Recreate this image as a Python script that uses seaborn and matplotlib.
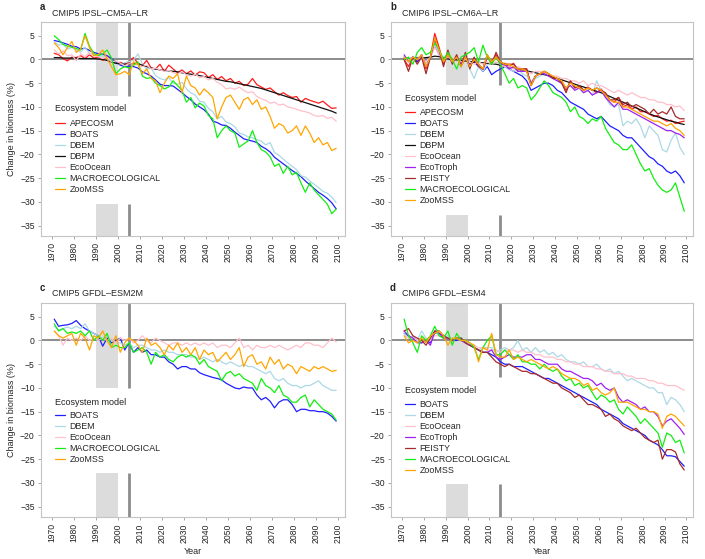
import matplotlib
matplotlib.use("Agg")
import matplotlib.pyplot as plt
import numpy as np
import pandas as pd
import seaborn as sns

# years sampled every 2 years, 1971..2099
years = list(range(1971, 2100, 2))

# ---- a: CMIP5 IPSL-CM5A-LR ----
a_apecosm = [1.3, 1.0, 0.2, -0.3, 0.5, 0.4, 0.8, 0.2, 1.0, 0.3,
             0.5, -0.2, 0.6, -0.5, -0.8, -0.6, -1.0, -0.5, 0.4, -0.8,
             -1.3, -0.2, -1.8, -2.0, -1.0, -2.5, -1.2, -2.0, -2.8, -2.2,
             -3.0, -2.4, -3.3, -2.6, -2.8, -3.8, -3.2, -4.2, -3.6, -4.5,
             -4.0, -5.0, -4.6, -5.5, -5.2, -4.0, -5.3, -5.8, -6.3, -6.0,
             -6.8, -7.5, -7.0, -7.6, -8.0, -7.8, -9.0, -8.2, -8.6, -8.9,
             -9.2, -8.8, -9.6, -10.3, -10.2]
a_boats = [4.0, 3.8, 3.5, 3.2, 2.8, 2.7, 2.2, 2.4, 1.9, 1.5,
           1.2, 1.1, 0.8, 0.2, -0.6, -1.2, -1.5, -1.4, -1.5, -1.8,
           -2.6, -3.0, -3.5, -4.3, -5.2, -5.5, -5.5, -5.6, -6.3, -7.0,
           -7.8, -8.5, -9.4, -10.0, -10.6, -11.5, -13.0, -13.3, -13.8, -13.9,
           -14.5, -15.3, -16.0, -16.7, -17.0, -17.2, -17.5, -18.3, -18.8, -19.5,
           -20.6, -21.3, -22.0, -22.7, -23.4, -24.0, -24.7, -25.6, -26.4, -27.2,
           -28.0, -28.6, -29.3, -30.2, -31.5]
a_dbem = [3.8, 3.0, 3.3, 2.2, 2.5, 2.0, 1.5, 2.6, 1.2, 1.0,
          0.6, 0.9, 0.2, -0.2, -0.8, -1.0, -0.7, -0.4, -0.2, 1.2,
          -1.0, -2.0, -1.8, -3.4, -4.0, -4.3, -3.8, -5.0, -5.2, -4.8,
          -6.2, -7.0, -7.5, -8.8, -9.0, -10.3, -11.0, -12.5, -12.0, -13.2,
          -13.5, -14.2, -15.5, -15.8, -16.3, -16.5, -16.9, -17.2, -18.0, -17.5,
          -19.6, -20.2, -21.0, -21.8, -22.5, -23.2, -24.5, -24.8, -25.6, -26.3,
          -27.0, -27.8, -28.2, -29.0, -30.2]
a_dbpm = [0.4, 0.4, 0.3, 0.3, 0.3, 0.3, 0.2, 0.2, 0.2, 0.2,
          0.1, 0.0, -0.2, -0.5, -0.8, -0.9, -1.0, -1.0, -0.9, -0.9,
          -1.2, -1.5, -1.8, -2.0, -2.2, -2.3, -2.4, -2.5, -2.6, -2.8,
          -3.0, -3.1, -3.2, -3.4, -3.6, -3.8, -4.0, -4.2, -4.4, -4.6,
          -4.7, -4.9, -5.1, -5.3, -5.5, -5.7, -5.9, -6.1, -6.4, -6.7,
          -7.0, -7.3, -7.6, -7.9, -8.2, -8.5, -8.8, -9.1, -9.4, -9.7,
          -10.0, -10.3, -10.6, -10.9, -11.3]
a_ecoocean = [2.0, 1.2, 1.8, 0.8, 1.0, -0.3, 1.2, 0.6, 1.5, 0.8,
              0.6, 0.2, 0.5, -0.5, -0.3, -0.8, -1.3, -0.9, -1.0, -1.2,
              -1.5, -1.2, -2.0, -1.8, -2.2, -2.5, -2.3, -2.8, -3.0, -2.6,
              -3.2, -3.5, -3.1, -3.8, -3.6, -4.3, -4.0, -4.8, -5.3, -6.2,
              -6.0, -6.3, -5.8, -6.5, -7.0, -6.8, -7.8, -8.3, -8.6, -9.2,
              -9.0, -9.6, -9.4, -10.0, -10.2, -10.5, -10.8, -11.0, -11.3, -11.8,
              -12.0, -11.8, -12.4, -12.2, -13.0]
a_macro = [5.0, 4.2, 3.2, 2.8, 2.6, 2.3, 2.0, 5.5, 2.8, 1.3,
           0.8, 1.2, 2.0, 0.3, -3.0, -2.0, -1.5, -1.8, -1.2, -0.5,
           -3.5, -4.0, -3.8, -5.0, -5.5, -6.2, -5.8, -4.5, -5.5, -6.5,
           -9.0, -8.0, -10.2, -9.2, -9.8, -11.8, -12.5, -16.5, -15.0, -14.0,
           -15.0, -15.5, -18.5, -17.8, -17.2, -15.0, -17.5, -19.0, -19.5, -20.5,
           -22.5, -22.0, -24.0, -22.5, -24.3, -23.8, -26.0, -28.0, -26.0, -27.5,
           -28.5, -29.5, -30.5, -32.5, -31.5]
a_zoomss = [3.5, 2.5, 1.0, 2.5, 3.8, 1.5, 2.2, 5.0, 2.5, 0.8,
            1.0, 2.0, 0.2, -1.5, -3.2, -3.0, -2.5, -3.2, -0.5, -1.0,
            -3.0, -2.0, -4.0, -4.5, -7.0, -5.0, -3.5, -4.0, -3.0, -7.0,
            -3.5, -5.5, -6.0, -7.5, -6.2, -7.0, -8.0, -12.5, -10.0, -8.0,
            -7.5, -9.0, -10.5, -8.5, -8.0, -9.5, -8.5, -10.5, -10.0, -12.0,
            -14.5, -13.5, -14.0, -15.5, -15.0, -14.0, -16.0, -14.0, -15.5, -17.5,
            -16.5, -18.0, -17.5, -19.2, -18.7]

# ---- b: CMIP6 IPSL-CM6A-LR ----
b_apecosm = [0.0, -1.5, 0.5, -0.5, 1.0, -2.0, 0.5, 5.5, 2.5, -1.0,
             1.5, -0.5, 0.8, -1.5, 0.5, -1.5, 0.3, -1.0, -2.5, 0.8,
             -0.5, 1.0, -1.0, -0.8, -1.5, -0.8, -2.5, -2.0, -2.0, -5.5,
             -3.5, -3.0, -2.5, -3.0, -3.8, -4.0, -4.5, -6.5, -4.5, -6.0,
             -5.5, -6.5, -5.8, -6.5, -7.0, -6.2, -7.5, -8.5, -9.0, -8.0,
             -10.0, -9.5, -10.5, -10.0, -11.0, -11.0, -11.5, -12.0, -11.8, -12.5,
             -13.0, -12.8, -13.5, -13.2, -13.0]
b_boats = [0.5, 0.0, 0.5, -0.5, 0.5, -0.5, 0.5, 3.0, 1.0, 0.0,
           0.5, -0.5, 0.3, -1.0, 0.0, -1.0, -0.5, -1.5, -2.5, -1.5,
           -3.2, -2.5, -2.0, -1.5, -2.0, -2.5, -3.0, -3.5, -4.5, -6.5,
           -6.0, -5.5, -5.0, -5.0, -5.5, -6.5, -7.0, -8.0, -9.0, -9.5,
           -10.0, -10.5, -11.5, -12.0, -12.5, -12.0, -13.0, -14.0, -14.5, -15.0,
           -16.0, -16.5, -16.5, -17.5, -18.5, -19.5, -20.5, -21.0, -22.0, -22.5,
           -23.5, -24.0, -23.5, -24.5, -26.0]
b_dbem = [0.5, 0.0, 0.0, 0.5, 0.0, -0.5, 0.5, 3.0, 1.5, 0.5,
          0.0, -0.5, 0.5, -1.5, 0.5, -2.0, -4.0, -1.5, -2.5, -1.0,
          -1.0, -0.5, -1.0, -1.5, -2.0, -2.5, -2.0, -3.0, -3.5, -5.0,
          -4.0, -3.5, -3.0, -3.5, -4.0, -4.5, -5.0, -6.0, -5.5, -6.0,
          -6.0, -7.0, -6.5, -7.5, -4.5, -6.5, -8.0, -9.5, -10.0, -9.5,
          -14.0, -13.0, -13.5, -12.5, -14.0, -16.5, -14.0, -15.0, -16.0, -19.0,
          -19.5, -17.0, -15.5, -18.5, -20.0]
b_dbpm = [0.0, 0.1, 0.2, 0.3, 0.3, 0.4, 0.5, 0.7, 0.6, 0.3,
          0.1, 0.0, -0.1, -0.2, -0.3, -0.4, -0.5, -0.6, -0.7, -0.8,
          -0.9, -1.0, -1.2, -1.4, -1.6, -1.8, -2.0, -2.2, -2.4, -2.6,
          -2.8, -3.0, -3.2, -3.4, -3.7, -4.0, -4.3, -4.6, -4.9, -5.2,
          -5.5, -5.8, -6.1, -6.4, -6.7, -7.0, -7.4, -7.8, -8.2, -8.6,
          -9.0, -9.4, -9.8, -10.2, -10.6, -11.0, -11.4, -11.8, -12.1, -12.4,
          -12.7, -13.0, -13.2, -13.5, -13.7]
b_ecoocean = [0.5, 0.0, 0.5, 0.0, 0.5, -0.5, 0.5, 2.5, 1.0, 0.0,
              0.5, 0.0, 0.5, -0.5, 0.0, -0.5, -1.0, -0.5, -1.0, -0.5,
              -1.0, -0.5, -1.0, -1.5, -1.5, -2.0, -1.5, -2.0, -2.5, -3.0,
              -2.5, -2.5, -3.0, -3.0, -3.5, -3.5, -4.0, -4.0, -4.5, -4.5,
              -5.0, -4.5, -5.5, -5.0, -5.5, -5.5, -6.0, -6.5, -7.0, -6.5,
              -7.0, -7.5, -7.0, -7.5, -8.0, -8.0, -8.5, -8.5, -9.0, -9.0,
              -9.5, -9.5, -10.0, -9.8, -10.8]
b_ecotroph = [1.0, -0.5, 0.5, 0.0, 1.0, -1.5, 0.5, 4.0, 2.0, -0.5,
              1.0, -0.5, 0.5, -1.0, 0.5, -1.5, 0.0, -1.0, -2.0, 0.5,
              -0.5, 0.5, -1.0, -1.0, -2.0, -1.5, -2.5, -2.5, -2.5, -5.0,
              -3.5, -3.0, -3.0, -3.5, -4.0, -4.5, -5.0, -6.0, -5.5, -6.5,
              -6.0, -7.0, -6.5, -7.5, -7.0, -6.5, -8.0, -9.0, -10.0, -9.0,
              -10.5, -10.5, -11.0, -11.5, -12.0, -12.5, -13.0, -13.5, -14.0, -14.5,
              -15.0, -15.0, -15.5, -15.8, -16.5]
b_feisty = [0.0, -2.5, 0.5, -1.0, 0.5, -3.0, 0.5, 4.5, 2.0, -1.5,
            2.0, -1.0, 1.0, -1.5, 1.5, -2.0, 0.5, -1.5, -2.0, 1.0,
            -1.0, 1.5, -0.5, -1.0, -1.0, -1.0, -2.0, -2.0, -2.0, -5.5,
            -3.5, -3.0, -2.5, -3.0, -4.0, -4.0, -5.0, -7.0, -4.5, -6.0,
            -5.5, -6.5, -6.0, -6.5, -6.0, -6.5, -7.0, -8.5, -8.5, -8.0,
            -9.5, -9.0, -10.0, -9.5, -10.0, -10.5, -11.5, -10.5, -11.5, -11.0,
            -11.5, -10.0, -12.0, -12.5, -12.5]
b_macro = [0.0, 0.5, -1.0, 1.5, 2.5, 1.0, 1.5, 3.5, 2.0, 0.0,
           1.5, 0.0, -2.0, 0.5, 1.0, 1.5, 2.5, -0.5, 3.0, 0.5,
           -1.0, 0.5, -1.0, -3.0, -5.0, -4.0, -6.0, -5.5, -6.0, -8.5,
           -7.5, -6.0, -4.5, -5.5, -7.0, -7.5, -8.0, -9.0, -11.0, -10.0,
           -12.0, -12.5, -13.5, -12.5, -13.0, -12.0, -14.5, -16.0, -17.5, -18.0,
           -19.0, -19.0, -18.0, -20.0, -22.0, -23.5, -23.0, -25.0, -26.5, -27.5,
           -28.0, -27.5, -26.0, -29.0, -32.0]
b_zoomss = [0.5, -0.5, 0.5, 0.0, 1.0, -1.5, 0.5, 4.5, 2.0, -0.5,
            1.0, -0.5, 0.5, -1.5, 0.5, -1.5, 0.0, -1.0, -2.0, 1.0,
            -0.5, 0.5, -0.5, -1.0, -1.0, -1.5, -2.0, -2.0, -2.5, -5.5,
            -3.5, -3.0, -2.5, -3.0, -3.5, -4.0, -4.5, -6.0, -5.0, -5.5,
            -6.0, -6.5, -6.0, -6.5, -6.0, -6.5, -7.5, -8.5, -9.0, -9.0,
            -10.0, -10.0, -10.5, -11.0, -11.5, -12.0, -12.5, -13.0, -13.0, -13.5,
            -14.0, -13.5, -14.5, -15.0, -16.0]

# ---- c: CMIP5 GFDL-ESM2M ----
c_boats = [4.5, 3.0, 3.2, 3.3, 3.6, 4.2, 3.2, 2.5, 2.0, 1.5,
           1.0, -1.2, 0.5, -0.5, 0.0, 0.5, -2.0, -0.5, -2.5, -1.5,
           -2.5, -2.0, -3.0, -3.0, -3.5, -3.5, -4.5, -5.0, -6.0, -5.5,
           -5.5, -6.0, -6.0, -6.8, -7.2, -7.5, -7.8, -8.0, -8.3, -9.0,
           -9.5, -10.0, -10.2, -9.8, -10.0, -10.0, -11.5, -12.5, -12.0, -12.8,
           -14.2, -13.0, -12.5, -12.5, -13.5, -15.0, -14.5, -14.5, -14.8, -14.8,
           -15.0, -15.0, -15.3, -16.0, -17.0]
c_dbem = [3.0, 2.2, 2.5, 2.8, 2.5, 3.0, 2.5, 3.5, 2.0, 1.5,
          1.0, 0.5, 1.0, 0.0, -0.5, -0.5, -1.0, -0.5, -1.5, -1.0,
          -1.0, -1.5, -2.0, -2.0, -2.5, -2.0, -2.5, -2.5, -3.0, -3.0,
          -3.0, -3.5, -3.5, -4.0, -3.5, -4.0, -4.5, -4.0, -4.5, -5.0,
          -4.5, -5.0, -5.5, -5.0, -5.5, -5.5, -6.0, -6.5, -7.0, -6.5,
          -8.0, -8.5, -8.0, -9.0, -9.5, -9.5, -10.0, -9.5, -9.5, -9.0,
          -8.5, -9.5, -10.0, -10.5, -10.5]
c_ecoocean = [2.0, 1.0, -1.0, 0.5, 0.0, 0.5, 0.0, 1.0, 0.0, 0.5,
              0.0, 0.5, 0.0, 0.5, -0.5, 0.5, 0.0, 0.5, -0.5, 0.0,
              1.0, 0.0, -0.5, 0.5, 0.0, -0.5, -1.0, -0.5, -0.5, -1.0,
              -0.5, -1.0, -0.5, -1.0, -0.5, -1.0, -0.5, -1.5, -1.0, -1.0,
              -1.5, -0.5, 0.5, -1.5, -1.0, -2.0, -1.0, -1.5, -1.5, -1.0,
              -1.5, -1.0, -1.5, -2.0, -1.5, -1.0, -1.5, -0.5, -0.5, -1.0,
              -1.0, -1.5, -0.5, 0.5, -0.3]
c_macro = [3.5, 2.0, 2.5, 1.5, 1.8, 1.5, 2.0, 1.0, 2.0, 0.0,
           1.0, 0.0, 1.5, -1.5, -1.0, -1.5, -1.5, -0.5, -2.5, -2.0,
           -1.5, -2.5, -5.0, -2.5, -3.5, -3.0, -4.0, -4.5, -3.5, -3.0,
           -3.5, -3.0, -3.5, -5.0, -4.0, -5.5, -6.0, -6.5, -8.5, -7.0,
           -6.5, -7.5, -7.0, -8.0, -8.5, -9.0, -10.5, -8.0, -9.5, -10.0,
           -11.0, -9.5, -11.5, -12.0, -13.0, -13.0, -12.0, -11.5, -14.0, -12.5,
           -13.5, -14.5, -15.0, -15.5, -16.8]
c_zoomss = [2.0, 1.0, 0.5, 1.0, 1.5, -1.0, 1.5, 0.5, -2.0, 1.0,
            0.5, 2.0, 0.0, -1.5, 1.0, -2.5, -0.5, 0.5, 0.0, -1.0,
            -2.5, 0.5, -1.0, -0.5, -1.5, -3.0, -1.0, -2.0, -0.5, -2.5,
            -1.5, -3.0, -1.5, -4.0, -2.0, -3.0, -2.5, -4.5, -3.5, -2.5,
            -4.0, -3.0, -1.5, -5.5, -3.5, -3.0, -5.0, -4.5, -6.0, -3.5,
            -5.0, -4.0, -6.0, -5.0, -5.5, -7.0, -5.5, -6.0, -6.5, -5.5,
            -6.0, -5.5, -6.0, -6.5, -6.3]

# ---- d: CMIP6 GFDL-ESM4 ----
d_boats = [1.5, 1.0, 0.5, 0.0, -0.5, 0.0, -0.5, 1.5, 1.5, 1.0,
           0.5, 0.0, 0.0, 0.5, -0.5, -1.0, -1.5, -2.0, -2.5, -2.5,
           -3.0, -3.5, -4.5, -5.0, -5.0, -5.5, -5.5, -5.5, -6.0, -6.5,
           -7.0, -7.5, -8.0, -8.0, -8.5, -9.0, -9.5, -10.0, -10.5, -11.0,
           -11.5, -12.0, -12.5, -13.0, -13.5, -14.5, -15.0, -15.5, -16.0, -16.5,
           -17.5, -18.0, -18.5, -19.0, -19.5, -20.0, -21.0, -21.5, -22.0, -23.0,
           -24.3, -24.3, -24.5, -25.5, -26.5]
d_dbem = [1.5, 0.5, 1.0, 0.0, 2.0, 0.5, 0.0, 2.0, 1.0, 0.5,
          1.0, 0.0, 0.5, 0.0, -0.5, -1.0, -1.5, -2.0, -1.5, -1.5,
          -1.5, -2.5, -2.0, -1.5, -2.0, -1.5, 0.0, -2.0, -1.5, -2.5,
          -1.5, -2.5, -2.0, -3.0, -2.5, -3.5, -3.0, -4.0, -4.5, -4.5,
          -5.0, -4.5, -5.5, -5.5, -5.0, -6.0, -6.5, -6.0, -7.0, -6.5,
          -7.5, -8.5, -8.0, -8.5, -9.0, -9.5, -10.0, -10.0, -11.0, -11.0,
          -13.5, -12.0, -12.5, -13.5, -15.0]
d_ecoocean = [1.0, 0.5, 0.5, 0.0, 0.5, 0.5, 0.0, 1.0, 1.0, 0.5,
              0.5, 0.0, 0.5, 0.0, -0.5, -1.0, -1.0, -1.5, -1.5, -2.0,
              -2.0, -2.0, -2.5, -2.0, -2.0, -2.0, -2.5, -2.0, -2.5, -2.5,
              -3.0, -3.0, -3.5, -3.5, -3.5, -4.0, -4.0, -4.5, -4.5, -5.0,
              -5.0, -5.5, -5.5, -5.5, -6.0, -6.0, -6.5, -6.5, -7.0, -7.0,
              -7.0, -7.5, -7.5, -8.0, -8.0, -8.0, -8.5, -8.5, -9.0, -9.0,
              -9.5, -9.5, -9.5, -10.0, -10.5]
d_ecotroph = [2.0, 1.0, 0.5, -0.5, -0.5, 0.0, -1.0, 2.0, 1.5, 0.5,
              0.5, 0.0, 0.5, 0.0, -0.5, -1.0, -1.5, -2.0, -2.5, -2.5,
              -2.0, -3.5, -4.0, -3.5, -3.0, -3.5, -3.5, -3.5, -3.0, -3.0,
              -4.0, -4.0, -4.5, -5.0, -5.0, -5.0, -6.0, -6.5, -6.5, -7.0,
              -7.5, -8.0, -8.0, -8.5, -9.5, -9.0, -10.0, -10.5, -10.0, -12.0,
              -13.0, -12.5, -13.0, -13.5, -14.5, -14.0, -15.0, -15.0, -16.0, -18.0,
              -17.0, -16.5, -17.5, -18.5, -19.8]
d_feisty = [2.0, 2.5, 1.0, 0.5, 0.0, -1.0, 0.5, 2.0, 2.0, 1.0,
            0.5, 0.0, 0.5, 0.5, -0.5, -1.0, -1.5, -2.0, -2.5, -2.5,
            -3.5, -4.5, -5.0, -5.5, -5.0, -5.5, -6.0, -6.5, -6.5, -7.0,
            -7.0, -7.5, -8.0, -8.5, -9.0, -9.0, -10.0, -10.5, -11.0, -12.0,
            -11.5, -12.5, -13.5, -13.5, -14.0, -14.5, -16.0, -15.5, -16.5, -17.0,
            -18.0, -18.5, -19.0, -18.5, -19.5, -20.5, -21.0, -21.5, -21.0, -25.0,
            -23.0, -23.0, -23.5, -26.0, -27.3]
d_macro = [4.5, 1.0, -0.5, -2.5, 1.0, 0.0, 1.0, 3.0, 1.0, 0.5,
           2.0, -1.0, 1.5, 0.0, 0.0, -0.5, -1.5, -4.0, -1.5, 0.0,
           1.0, -3.0, -3.0, -2.0, -3.0, -4.0, -3.0, -4.5, -4.5, -5.0,
           -5.0, -6.0, -5.0, -6.0, -6.5, -6.0, -7.5, -8.5, -8.0, -9.5,
           -9.0, -10.0, -9.5, -11.0, -12.5, -11.5, -12.0, -13.0, -12.5, -14.5,
           -15.5, -14.0, -15.0, -16.0, -17.5, -16.5, -17.5, -18.5, -19.5, -22.5,
           -19.5, -20.0, -21.5, -21.0, -23.7]
d_zoomss = [1.0, -0.5, 0.0, -0.5, 0.5, -0.5, 1.0, 1.5, 2.0, 1.0,
            -1.0, 0.5, 0.5, 0.0, 0.0, -0.5, -1.0, -4.5, -1.5, -2.0,
            1.5, -3.0, -3.5, -3.5, -2.0, -4.0, -3.5, -4.0, -4.5, -4.0,
            -4.5, -5.0, -5.5, -6.0, -5.5, -6.0, -7.0, -7.5, -8.0, -8.0,
            -8.5, -9.5, -9.0, -10.5, -10.0, -11.0, -11.5, -11.0, -10.0, -13.0,
            -13.0, -13.0, -13.5, -14.0, -14.5, -14.5, -15.0, -15.0, -15.5, -18.5,
            -16.0, -15.5, -16.0, -17.0, -18.0]

colors = {
    "APECOSM": "#ff1a1a",
    "BOATS": "#1f1fff",
    "DBEM": "#add8e6",
    "DBPM": "#111111",
    "EcoOcean": "#ffc0cb",
    "EcoTroph": "#a020f0",
    "FEISTY": "#a52a2a",
    "MACROECOLOGICAL": "#11ee11",
    "ZooMSS": "#ffa500",
}

# leg = (legend title y, legend top y) in axes fraction
panels = [
    dict(letter="a", title="CMIP5 IPSL–CM5A–LR", ref=2005, cut=(-7.7, -30.5), leg=(0.594, 0.546),
         series={"APECOSM": a_apecosm, "BOATS": a_boats, "DBEM": a_dbem, "DBPM": a_dbpm,
                 "EcoOcean": a_ecoocean, "MACROECOLOGICAL": a_macro, "ZooMSS": a_zoomss}),
    dict(letter="b", title="CMIP6 IPSL–CM6A–LR", ref=2015, cut=(-5.3, -32.8), leg=(0.642, 0.598),
         series={"APECOSM": b_apecosm, "BOATS": b_boats, "DBEM": b_dbem, "DBPM": b_dbpm,
                 "EcoOcean": b_ecoocean, "EcoTroph": b_ecotroph, "FEISTY": b_feisty,
                 "MACROECOLOGICAL": b_macro, "ZooMSS": b_zoomss}),
    dict(letter="c", title="CMIP5 GFDL–ESM2M", ref=2005, cut=(-10.0, -28.0), leg=(0.536, 0.495),
         series={"BOATS": c_boats, "DBEM": c_dbem, "EcoOcean": c_ecoocean,
                 "MACROECOLOGICAL": c_macro, "ZooMSS": c_zoomss}),
    dict(letter="d", title="CMIP6 GFDL–ESM4", ref=2015, cut=(-7.7, -30.3), leg=(0.593, 0.547),
         series={"BOATS": d_boats, "DBEM": d_dbem, "EcoOcean": d_ecoocean,
                 "EcoTroph": d_ecotroph, "FEISTY": d_feisty,
                 "MACROECOLOGICAL": d_macro, "ZooMSS": d_zoomss}),
]

sns.set_style("ticks")
plt.rcParams["font.family"] = ["Liberation Sans", "DejaVu Sans"]

W, H = 705, 559
fig = plt.figure(figsize=(W / 100, H / 100), dpi=100)

# axes boxes in pixels: (left, top, right, bottom)
boxes = [(41, 22, 345, 236), (391, 22, 693, 236), (41, 303, 345, 517), (391, 303, 693, 517)]

ylo, yhi = -37.2, 7.9
frame = "#c4c4c4"
refgray = "#8c8c8c"

for i, (p, (l, t, r, b)) in enumerate(zip(panels, boxes)):
    ax = fig.add_axes([l / W, 1 - b / H, (r - l) / W, (b - t) / H])
    rows = []
    for name, vals in p["series"].items():
        for yr, v in zip(years, vals):
            rows.append((yr, v, name))
    df = pd.DataFrame(rows, columns=["year", "change", "model"])

    # grey reference period and the reference year marker
    top_cut, bot_cut = p["cut"]
    ax.fill_between([1990, 2000], top_cut, yhi, color="#dcdcdc", lw=0, zorder=0)
    ax.fill_between([1990, 2000], ylo, bot_cut, color="#dcdcdc", lw=0, zorder=0)
    ax.plot([p["ref"], p["ref"]], [top_cut, yhi], color=refgray, lw=2.0, zorder=1, solid_capstyle="butt")
    ax.plot([p["ref"], p["ref"]], [ylo, bot_cut], color=refgray, lw=2.0, zorder=1, solid_capstyle="butt")
    ax.axhline(0, color=refgray, lw=1.4, zorder=1)

    sns.lineplot(data=df, x="year", y="change", hue="model", palette=colors,
                 hue_order=list(p["series"].keys()), estimator=None, errorbar=None,
                 linewidth=0.9, ax=ax, zorder=2)

    ax.set_xlim(1965, 2103)
    ax.set_ylim(ylo, yhi)
    ax.set_xticks(range(1970, 2101, 10))
    ax.set_yticks(range(5, -36, -5))
    ax.tick_params(axis="x", labelrotation=90)
    ax.tick_params(labelsize=6.2, length=2.5, width=0.6, color="#999999", pad=2, labelcolor="#222222")
    for s in ax.spines.values():
        s.set_visible(True)
        s.set_color(frame)
        s.set_linewidth(0.8)

    ax.set_xlabel("Year" if i >= 2 else "", fontsize=6.5, labelpad=3)
    ax.set_ylabel("Change in biomass (%)" if i % 2 == 0 else "", fontsize=6.5, labelpad=3)

    ty, ly = p["leg"]
    ax.text(0.046, ty, "Ecosystem model", transform=ax.transAxes, fontsize=6.5,
            va="center", ha="left", color="#222222")
    sns.move_legend(ax, "upper left", bbox_to_anchor=(0.046, ly), frameon=False,
                    title=None, fontsize=6.4,
                    handlelength=1.15, handletextpad=0.5, labelspacing=0.22,
                    borderpad=0, borderaxespad=0)

    fig.text((l - 1) / W, 1 - (t - 20) / H, p["letter"], fontsize=7, fontweight="bold", va="top", ha="left")
    fig.text((l + 11) / W, 1 - (t - 9) / H, p["title"], fontsize=6.5, va="center", ha="left")

fig.savefig("out.png", dpi=100)
